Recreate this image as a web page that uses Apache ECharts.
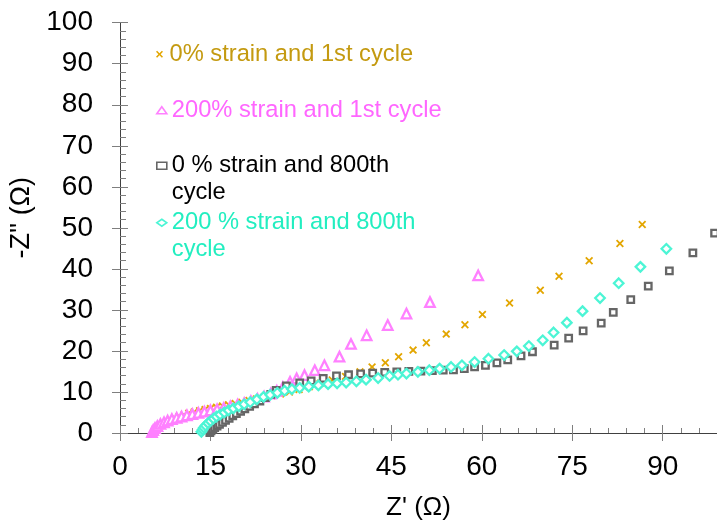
<!DOCTYPE html>
<html>
<head>
<meta charset="utf-8">
<script src="https://cdn.jsdelivr.net/npm/echarts@6/dist/echarts.min.js"></script>
<style>
html,body{margin:0;padding:0;background:#fff;}
#chart{width:717px;height:527px;}
</style>
</head>
<body>
<div id="chart"></div>
<script>
// ---- data (Z', -Z'') ----
const seriesNames = ['0% strain and 1st cycle', '200% strain and 1st cycle', '0 % strain and 800th cycle', '200 % strain and 800th cycle'];

const goldX = [5.8,6.0,6.3,6.7,7.2,7.8,8.4,9.1,9.8,10.6,11.4,12.3,13.2,14.1,15.0,16.0,17.0,18.0,19.1,20.2,21.4,22.6,23.9,25.2,26.6,28.1,29.7,31.4,33.2,35.2,37.4,39.8,41.8,44.0,46.2,48.6,50.8,54.1,57.2,60.1,64.6,69.7,72.8,77.8,82.9,86.6];
const goldY = [0.3,0.8,1.3,1.8,2.3,2.8,3.2,3.6,4.0,4.4,4.8,5.1,5.4,5.7,6.0,6.3,6.6,6.9,7.2,7.5,7.9,8.3,8.7,9.1,9.5,10.0,10.6,11.3,12.1,12.9,13.8,14.9,16.1,17.1,18.6,20.2,22.0,24.1,26.4,28.9,31.7,34.8,38.2,42.0,46.2,50.8];

const pinkX = [5.3,5.5,5.8,6.2,6.7,7.3,7.9,8.6,9.4,10.2,11.1,12.0,13.0,14.0,15.0,16.1,17.2,18.3,19.5,20.6,21.7,22.8,23.9,25.0,26.0,27.0,28.2,29.3,30.6,32.3,33.9,36.4,38.3,40.9,44.4,47.5,51.4,59.4];
const pinkY = [0.2,0.7,1.2,1.7,2.2,2.6,3.0,3.4,3.7,4.0,4.3,4.6,4.9,5.2,5.5,5.8,6.1,6.5,6.9,7.3,7.8,8.3,8.9,9.6,10.3,11.2,12.5,13.3,14.1,15.3,16.5,18.6,21.7,23.8,26.3,29.1,31.9,38.4];

const grayX = [14.9,15.1,15.4,15.7,16.1,16.5,17.0,17.5,18.1,18.7,19.3,20.0,20.7,21.5,22.3,23.2,24.1,25.0,25.9,27.6,29.8,31.7,33.7,35.9,37.9,39.9,41.9,43.9,45.9,47.9,49.9,51.8,53.6,55.3,57.1,58.8,60.6,62.5,64.3,66.5,68.4,72.0,74.4,76.8,79.8,81.8,84.7,87.6,91.1,95.0,98.6];
const grayY = [0.1,0.5,0.9,1.3,1.7,2.1,2.6,3.1,3.6,4.2,4.7,5.3,5.9,6.5,7.1,7.8,8.6,9.4,10.4,11.5,12.2,12.7,13.3,13.9,14.2,14.4,14.6,14.8,14.9,15.0,15.1,15.2,15.3,15.4,15.7,16.1,16.5,17.1,17.8,18.8,19.8,21.4,23.1,24.9,26.8,29.4,32.5,35.8,39.5,43.9,48.7];

const cyanX = [13.5,13.7,13.9,14.2,14.6,15.0,15.5,16.0,16.6,17.3,18.0,18.8,19.7,20.6,21.6,22.7,23.8,24.9,26.1,27.3,28.5,29.8,31.3,32.9,34.5,36.0,37.5,39.2,40.8,42.8,44.7,46.1,47.5,49.4,51.3,53.0,54.9,56.7,58.8,61.1,63.7,65.8,67.8,70.1,71.9,74.1,76.7,79.6,82.7,86.3,90.6];
const cyanY = [0.3,0.8,1.3,1.8,2.4,2.9,3.5,4.0,4.5,5.0,5.5,6.0,6.5,7.0,7.5,8.2,8.8,9.3,9.8,10.3,10.7,11.0,11.3,11.6,11.9,12.1,12.3,12.6,13.0,13.4,13.9,14.2,14.5,14.9,15.3,15.7,16.1,16.5,17.3,18.1,19.0,19.9,21.2,22.6,24.5,26.9,29.7,32.9,36.5,40.5,44.9];

const xMin = 0, xMax = 99, xInterval = 15;
const yMin = 0, yMax = 100, yInterval = 10;
const xName = "Z' (\u03A9)";
const yName = "-Z'' (\u03A9)";

// ---- build ----
function zip(xs, ys) { return xs.map((x, i) => [x, ys[i]]); }
const FONT = "'Liberation Sans', Arial, sans-serif";
const AXIS = '#404040', TICK = '#7f7f7f';
const crossPath = 'path://M0,1.6L1.6,0L5,3.4L8.4,0L10,1.6L6.6,5L10,8.4L8.4,10L5,6.6L1.6,10L0,8.4L3.4,5Z';

function legendFor(name, top, color, twoLine, iconStyle) {
  return {
    data: [name], left: 156, top: top, padding: 0, orient: 'vertical',
    itemWidth: 10, itemHeight: 7, selectedMode: false,
    itemStyle: iconStyle,
    // two-line entries: a blank first line keeps the icon level with the first text line
    formatter: twoLine ? (n => ' \n' + n.replace(' cycle', '\ncycle')) : (n => n),
    textStyle: { color: color, fontSize: 23.7, fontFamily: FONT, lineHeight: 26.5 }
  };
}

const chart = echarts.init(document.getElementById('chart'), null, { renderer: 'canvas' });
const option = {
  backgroundColor: '#fff',
  animation: false,
  grid: { left: 120, right: 0, top: 22.7, bottom: 94, containLabel: false, outerBoundsMode: 'none' },
  legend: [
    legendFor(seriesNames[0], 41, '#C49A10', false, {}),
    legendFor(seriesNames[1], 97, '#FF66FF', false, { borderWidth: 1.6 }),
    legendFor(seriesNames[2], 126, '#000000', true, { borderWidth: 1.6 }),
    legendFor(seriesNames[3], 183, '#22EEC0', true, { borderWidth: 1.6 })
  ],
  xAxis: [
    { type: 'value', min: xMin, max: xMax, interval: xInterval, position: 'bottom',
      name: xName, nameLocation: 'middle', nameGap: 62,
      nameTextStyle: { fontSize: 26, fontFamily: FONT, color: '#000' },
      axisLine: { show: true, lineStyle: { color: AXIS, width: 1 } },
      axisTick: { show: true, inside: true, length: 8, lineStyle: { color: TICK } },
      axisLabel: { show: true, margin: 20, fontSize: 28, fontFamily: FONT, color: '#000', showMaxLabel: false },
      splitLine: { show: false } },
    { type: 'value', min: xMin, max: xMax, interval: xInterval, position: 'top',
      axisLine: { show: true, lineStyle: { color: AXIS, width: 1 } },
      axisTick: { show: false }, axisLabel: { show: false }, splitLine: { show: false } },
    { type: 'value', min: xMin, max: xMax, interval: 3, position: 'bottom',
      axisLine: { show: false },
      axisTick: { show: true, inside: true, length: 5, lineStyle: { color: TICK } },
      axisLabel: { show: false }, splitLine: { show: false } },
    { type: 'value', min: xMin, max: xMax, interval: xInterval, position: 'bottom',
      axisLine: { show: false },
      axisTick: { show: true, inside: false, length: 8, lineStyle: { color: TICK } },
      axisLabel: { show: false }, splitLine: { show: false } }
  ],
  yAxis: [
    { type: 'value', min: yMin, max: yMax, interval: yInterval, position: 'left',
      name: yName, nameLocation: 'middle', nameGap: 76, nameRotate: 90,
      nameTextStyle: { fontSize: 27, fontFamily: FONT, color: '#000', padding: [0, 0, 0, 20] },
      axisLine: { show: true, lineStyle: { color: AXIS, width: 1 } },
      axisTick: { show: true, inside: true, length: 8, lineStyle: { color: TICK } },
      minorTick: { show: true, splitNumber: 5, length: 6, lineStyle: { color: TICK } },
      axisLabel: { show: true, margin: 27, fontSize: 28, fontFamily: FONT, color: '#000' },
      splitLine: { show: false } },
    { type: 'value', min: yMin, max: yMax, interval: yInterval, position: 'left',
      axisLine: { show: false },
      axisTick: { show: true, inside: false, length: 8, lineStyle: { color: TICK } },
      axisLabel: { show: false }, splitLine: { show: false } }
  ],
  series: [
    { name: seriesNames[0], type: 'scatter', data: zip(goldX, goldY),
      symbol: crossPath, symbolSize: 8,
      itemStyle: { color: '#E3A600', opacity: 1 } },
    { name: seriesNames[1], type: 'scatter', data: zip(pinkX, pinkY),
      symbol: 'triangle', symbolSize: 9.5,
      itemStyle: { color: '#ffffff', borderColor: '#FF80FF', borderWidth: 2.3, opacity: 1 } },
    { name: seriesNames[2], type: 'scatter', data: zip(grayX, grayY),
      symbol: 'rect', symbolSize: 6.5,
      itemStyle: { color: '#ffffff', borderColor: '#666666', borderWidth: 2.3, opacity: 1 } },
    { name: seriesNames[3], type: 'scatter', data: zip(cyanX, cyanY),
      symbol: 'diamond', symbolSize: 9.5,
      itemStyle: { color: '#ffffff', borderColor: '#4CF5D5', borderWidth: 2.3, opacity: 1 } }
  ]
};
chart.setOption(option);
</script>
</body>
</html>
